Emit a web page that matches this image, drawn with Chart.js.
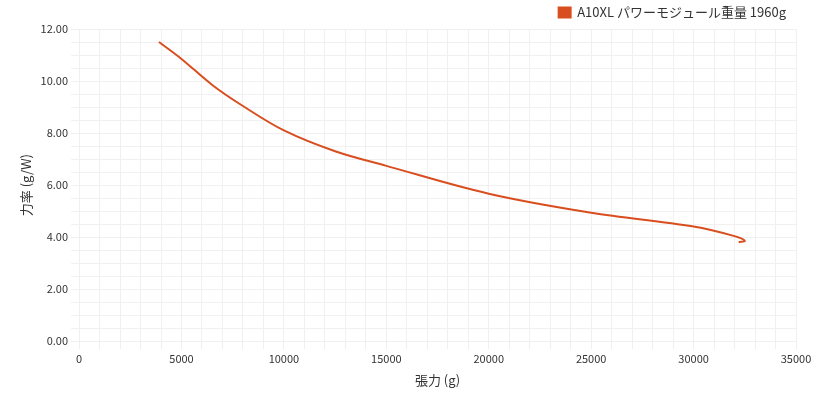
<!DOCTYPE html><html><head><meta charset="utf-8"><script src="https://cdn.jsdelivr.net/npm/chart.js@4"></script>
<style>body{margin:0}#w{width:840px;height:400px}</style></head><body><div id="w"><canvas id="c"></canvas></div><script>
const seriesLabel='A10XL パワーモジュール重量 1960g';
const tension=[3900,5000,6500,8000,10000,12500,15000,20000,25000,30000,32000,32500,32200];
const efficiency=[11.5,10.85,9.85,9.04,8.1,7.3,6.74,5.67,4.94,4.41,4.04,3.86,3.8];
const pts=tension.map((x,i)=>({x,y:efficiency[i]}));
Chart.defaults.font.family='"Noto Sans CJK JP","Noto Sans",sans-serif';
Chart.defaults.color='#333';
new Chart(document.getElementById('c'),{type:'scatter',data:{datasets:[{label:seriesLabel,data:pts,showLine:true,borderColor:'#d94e1f',backgroundColor:'#d94e1f',borderWidth:2,pointRadius:0,tension:0.35}]},
options:{responsive:true,maintainAspectRatio:false,animation:false,layout:{padding:{right:44,left:14,bottom:8,top:-4}},
plugins:{legend:{position:'top',align:'end',labels:{boxWidth:12,boxHeight:10,font:{size:13}}}},
scales:{x:{type:'linear',min:0,max:35000,title:{display:true,text:'張力 (g)',font:{size:13}},grid:{color:'#f0f0f0'},border:{color:'#f0f0f0'},ticks:{stepSize:1000,autoSkip:false,maxRotation:0,font:{size:11},callback:v=>v%5000===0?v:''}},
y:{min:0,max:12,title:{display:true,text:'力率 (g/W)',font:{size:13}},grid:{color:'#f0f0f0'},border:{color:'#f0f0f0'},ticks:{stepSize:0.5,autoSkip:false,font:{size:11},callback:v=>Math.abs(v%2)<1e-9?v.toFixed(2):''}}}}});
</script></body></html>
